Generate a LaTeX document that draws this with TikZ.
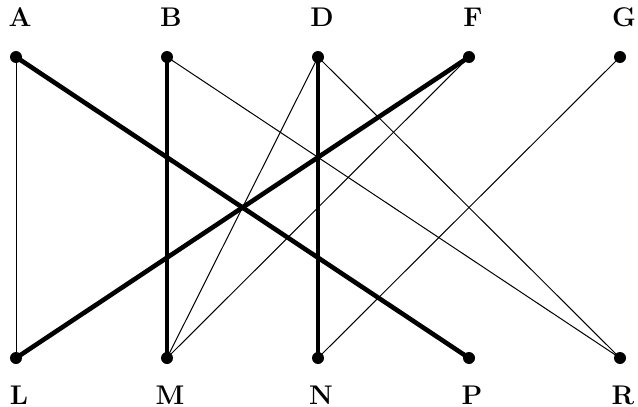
\documentclass[tikz,border=0pt]{standalone}
\begin{document}
\begin{tikzpicture}[x=0.5pt,y=-0.5pt,
  vtx/.style={circle,fill=black,inner sep=0pt,minimum size=6pt},
  lbl/.style={font=\fontsize{13.5}{16}\selectfont\bfseries,inner sep=0pt},
  thickedge/.style={line width=2.3pt},
  thinedge/.style={line width=0.5pt}]
\useasboundingbox (0,0) rectangle (638,407);
\foreach \n/\x in {A/16,B/167,D/318,F/469,G/620}{
  \node[vtx] (\n) at (\x,57) {};
  \node[lbl] (\n lab) at (\x+4,17) {\n};
}
\foreach \n/\x in {L/16,M/167,N/318,P/469,R/620}{
  \node[vtx] (\n) at (\x,358) {};
  \node[lbl] (\n lab) at (\x+3,395) {\n};
}
\draw[thinedge] (A.center) -- (L.center);
\draw[thinedge] (B.center) -- (R.center);
\draw[thinedge] (D.center) -- (M.center);
\draw[thinedge] (D.center) -- (R.center);
\draw[thinedge] (F.center) -- (M.center);
\draw[thinedge] (G.center) -- (N.center);
\draw[thickedge] (A.center) -- (P.center);
\draw[thickedge] (B.center) -- (M.center);
\draw[thickedge] (D.center) -- (N.center);
\draw[thickedge] (F.center) -- (L.center);
\end{tikzpicture}
\end{document}
